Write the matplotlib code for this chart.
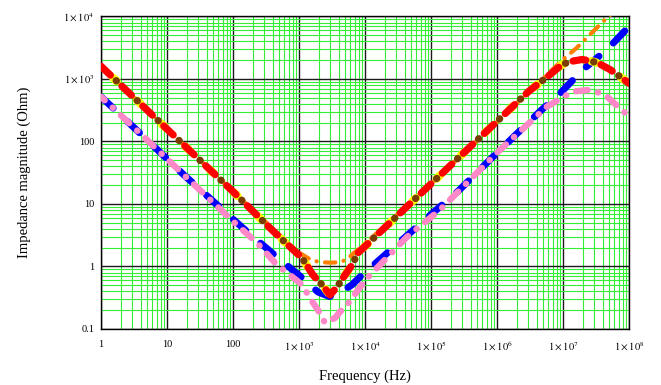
import numpy as np
import matplotlib
matplotlib.use('Agg')
import matplotlib.pyplot as plt
from matplotlib.ticker import LogLocator, FixedLocator, FixedFormatter, NullFormatter

# valores (frequencia em Hz, modulo da impedancia em Ohm)
f_vermelho = [1, 10, 100, 257, 433, 731, 1110, 1630, 2230, 2950, 3770, 4980, 6360, 7830,
              1e4, 1e5, 1e6, 3e6, 6.35e6, 9.66e6, 1.28e7, 1.94e7, 2.57e7, 3.39e7, 5.15e7, 7.3e7, 1e8]
z_vermelho = [1600, 158, 15.8, 5.9, 3.45, 2.06, 1.37, 0.73, 0.51, 0.35, 0.47, 0.73, 1.06, 1.65,
              2.1, 21, 210, 630, 1175, 1700, 1900, 2050, 1950, 1800, 1415, 1090, 850]

f_laranja = [1, 100, 966, 1470, 2000, 2950, 4170, 5330, 7050, 1e4, 1e5, 1e6, 1e7, 1.62e7, 3.9e7, 1e8]
z_laranja = [1600, 15.8, 1.71, 1.3, 1.18, 1.15, 1.17, 1.3, 1.7, 2.3, 21, 205, 2050, 3160, 8000, 20000]

f_azul = [1, 4.37, 17.5, 142, 404, 1110, 1940, 2900, 4500, 6360, 8400, 1.87e4, 1e5, 2.57e5,
          8.7e5, 4.8e6, 8.1e6, 2e7, 4.66e7, 1e8]
z_azul = [520, 121, 30, 4.1, 1.6, 0.66, 0.39, 0.33, 0.4, 0.51, 0.68, 1.43, 6.8, 16,
          57, 325, 523, 1410, 2960, 6900]

f_rosa = [1, 4.37, 17.5, 100, 231, 464, 731, 1110, 1470, 1940, 2480, 3510, 4170, 5330, 6580,
          1e4, 4.33e4, 1.37e5, 1e6, 5.7e6, 1.41e7, 2.75e7, 4.64e7, 6.8e7, 9.3e7, 1e8]
z_rosa = [520, 121, 30, 5.3, 2.39, 1.06, 0.73, 0.51, 0.31, 0.2, 0.125, 0.15, 0.187, 0.243, 0.326,
          0.6, 2.98, 8.07, 66, 361, 630, 675, 523, 361, 270, 255]

x_ticks = [1, 10, 100, 1e3, 1e4, 1e5, 1e6, 1e7, 1e8]
x_rotulos = ['1', '10', '100', r'$1\times10^{3}$', r'$1\times10^{4}$', r'$1\times10^{5}$',
             r'$1\times10^{6}$', r'$1\times10^{7}$', r'$1\times10^{8}$']
y_ticks = [0.1, 1, 10, 100, 1e3, 1e4]
y_rotulos = ['0.1', '1', '10', '100', r'$1\times10^{3}$', r'$1\times10^{4}$']

plt.rcParams['font.family'] = 'Liberation Serif'
plt.rcParams['mathtext.fontset'] = 'stix'

fig = plt.figure(figsize=(6.61, 3.85), dpi=100)
ax = fig.add_axes([0.1528, 0.1455, 0.7988, 0.8117])
ax.set_xscale('log')
ax.set_yscale('log')
ax.set_xlim(1, 1e8)
ax.set_ylim(0.1, 1e4)

# grade estilo Mathcad
ax.xaxis.set_major_locator(FixedLocator(x_ticks))
ax.xaxis.set_major_formatter(FixedFormatter(x_rotulos))
ax.yaxis.set_major_locator(FixedLocator(y_ticks))
ax.yaxis.set_major_formatter(FixedFormatter(y_rotulos))
ax.xaxis.set_minor_locator(LogLocator(base=10, subs=np.arange(2, 10), numticks=100))
ax.yaxis.set_minor_locator(LogLocator(base=10, subs=np.arange(2, 10), numticks=100))
ax.xaxis.set_minor_formatter(NullFormatter())
ax.yaxis.set_minor_formatter(NullFormatter())
ax.grid(which='minor', color='#33ee33', lw=0.8)
ax.grid(which='major', color='#1a1a1a', lw=1.0)
ax.set_axisbelow(True)
ax.tick_params(which='both', length=0, labelsize=7.5)
ax.tick_params(axis='x', pad=8)
ax.tick_params(axis='y', pad=5)
for s in ax.spines.values():
    s.set_linewidth(1.0)

estilo = dict(dash_capstyle='round', solid_capstyle='round')

# curvas
ax.plot(f_azul, z_azul, color='#0000ff', lw=5, linestyle=(0, (2.4, 2.8)), zorder=3, **estilo)
ax.plot(f_rosa, z_rosa, color='#ff88c8', lw=4.6, linestyle=(1.0, (1.8, 1.7, 0.05, 1.7)), zorder=4, **estilo)
ax.plot(f_laranja, z_laranja, color='#ff7f00', lw=3, linestyle=(0, (2.5, 2.0, 0.05, 2.0)), zorder=5, **estilo)
ax.plot(f_vermelho, z_vermelho, color='#ffff00', lw=6.0, linestyle=(2.0, (0.6, 3.4)), zorder=6, **estilo)
ax.plot(f_vermelho, z_vermelho, color='#ff0000', lw=5.2, linestyle=(0, (1.8, 2.2)), zorder=7, **estilo)
ax.plot(f_vermelho, z_vermelho, color='#7a3d00', lw=5.2, linestyle=(1.1, (0.05, 3.95)), zorder=8, **estilo)

ax.set_xlabel('Frequency (Hz)', fontsize=10.5)
ax.set_ylabel('Impedance magnitude (Ohm)', fontsize=10.5)
ax.xaxis.set_label_coords(0.5, -0.13)
ax.yaxis.set_label_coords(-0.132, 0.5)

fig.savefig('out.png', dpi=100)
